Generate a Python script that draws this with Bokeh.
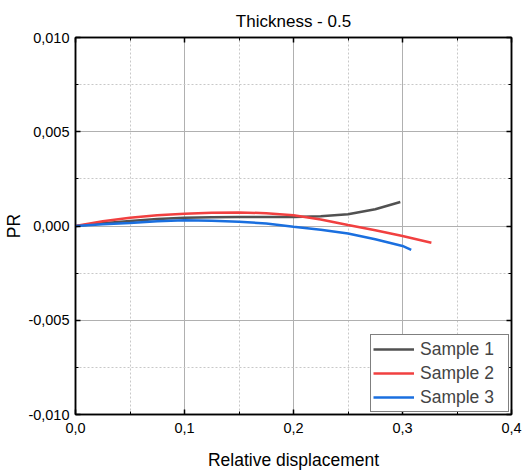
from bokeh.plotting import figure
from bokeh.models import (LinearAxis, FixedTicker, CustomJSTickFormatter, Range1d,
                          Legend, LegendItem)
from bokeh.embed import file_html
from bokeh.resources import INLINE

# ---- data ----
s1_x = [0, 0.025, 0.05, 0.075, 0.10, 0.125, 0.15, 0.175, 0.20, 0.225, 0.25, 0.275, 0.298]
s1_y = [0, 0.00015, 0.00027, 0.00037, 0.00044, 0.00046, 0.00048, 0.00048, 0.00048, 0.00052,
        0.00062, 0.00089, 0.00127]

s2_x = [0, 0.025, 0.05, 0.075, 0.10, 0.125, 0.15, 0.175, 0.20, 0.225, 0.25, 0.275, 0.30, 0.3265]
s2_y = [0, 0.00025, 0.00044, 0.00057, 0.00065, 0.00070, 0.00072, 0.00068, 0.00057, 0.00034,
        0.00005, -0.00023, -0.00053, -0.00089]

s3_x = [0, 0.025, 0.05, 0.075, 0.10, 0.125, 0.15, 0.175, 0.20, 0.225, 0.25, 0.275, 0.30, 0.308]
s3_y = [0, 0.00009, 0.00016, 0.00025, 0.00030, 0.00028, 0.00023, 0.00013, -0.00004, -0.00020,
        -0.00040, -0.00070, -0.00106, -0.00127]

series_names = ["Sample 1", "Sample 2", "Sample 3"]
series_colors = ["#515151", "#F14040", "#1A6FDF"]
title_text = "Thickness - 0.5"

x_ticks = [0.0, 0.1, 0.2, 0.3, 0.4]
x_minor = [0.05, 0.15, 0.25, 0.35]
y_ticks = [-0.010, -0.005, 0.0, 0.005, 0.010]
y_minor = [-0.0075, -0.0025, 0.0025, 0.0075]

FONT = "Liberation Sans"

p = figure(width=523, height=474, output_backend="svg", toolbar_location=None,
           x_range=Range1d(0, 0.4), y_range=Range1d(-0.010, 0.010),
           min_border_left=75, min_border_right=12, min_border_top=37, min_border_bottom=60,
           x_axis_label="Relative displacement", y_axis_label="PR")

p.title.text = title_text
p.title.align = "center"
p.title.text_font = FONT
p.title.text_font_size = "17px"
p.title.text_font_style = "normal"
p.title.text_color = "black"
p.title.text_line_height = 0.7
p.title.offset = 0
p.title.standoff = 14

xfmt = CustomJSTickFormatter(code="return tick.toFixed(1).replace('.', ',');")
yfmt = CustomJSTickFormatter(code="return tick.toFixed(3).replace('.', ',');")
blank = CustomJSTickFormatter(code="return '';")

xt = FixedTicker(ticks=x_ticks, minor_ticks=x_minor)
yt = FixedTicker(ticks=y_ticks, minor_ticks=y_minor)

def style_axis(ax):
    ax.axis_line_color = "black"
    ax.axis_line_width = 1.5
    ax.major_tick_in = 5
    ax.major_tick_out = 0
    ax.minor_tick_in = 3
    ax.minor_tick_out = 0
    ax.major_tick_line_color = "black"
    ax.major_tick_line_width = 1.5
    ax.minor_tick_line_color = "black"
    ax.major_label_text_font = FONT
    ax.major_label_text_font_size = "14.5px"
    ax.major_label_text_color = "black"
    ax.axis_label_text_font = FONT
    ax.axis_label_text_font_size = "17.5px"
    ax.axis_label_text_font_style = "normal"
    ax.axis_label_text_color = "black"

p.xaxis.ticker = xt
p.xaxis.formatter = xfmt
p.yaxis.ticker = yt
p.yaxis.formatter = yfmt
for ax in p.xaxis + p.yaxis:
    style_axis(ax)
p.xaxis.major_label_standoff = 8
p.xaxis.axis_label_standoff = 14
p.yaxis.major_label_standoff = 6
p.yaxis.axis_label_standoff = 1

top = LinearAxis(ticker=xt, formatter=blank)
right = LinearAxis(ticker=yt, formatter=blank)
for ax in (top, right):
    style_axis(ax)
    ax.major_label_standoff = 0
    ax.major_label_text_font_size = "0px"
p.add_layout(top, "above")
p.add_layout(right, "right")

p.xgrid.ticker = xt
p.ygrid.ticker = yt
for g in (p.xgrid[0], p.ygrid[0]):
    g.grid_line_color = "#b0b0b0"
    g.grid_line_width = 1
    g.minor_grid_line_color = "#c8c8c8"
    g.minor_grid_line_dash = "2 2"
    g.minor_grid_line_width = 1

p.outline_line_color = "black"
p.outline_line_width = 1.5
p.background_fill_color = "white"
p.border_fill_color = "white"

r1 = p.line(s1_x, s1_y, line_color=series_colors[0], line_width=2.5)
r2 = p.line(s2_x, s2_y, line_color=series_colors[1], line_width=2.5)
r3 = p.line(s3_x, s3_y, line_color=series_colors[2], line_width=2.5)

legend = Legend(items=[LegendItem(label=series_names[0], renderers=[r1]),
                       LegendItem(label=series_names[1], renderers=[r2]),
                       LegendItem(label=series_names[2], renderers=[r3])],
                location="bottom_right")
legend.margin = 2
legend.padding = 2
legend.spacing = 0
legend.border_line_color = "black"
legend.border_line_width = 1
legend.label_text_font = FONT
legend.label_text_font_size = "17.5px"
legend.label_height = 24
legend.label_width = 86
legend.glyph_height = 24
legend.glyph_width = 41
legend.label_standoff = 6
legend.background_fill_alpha = 1
p.add_layout(legend, "center")

open("out.html", "w").write(file_html(p, INLINE))
